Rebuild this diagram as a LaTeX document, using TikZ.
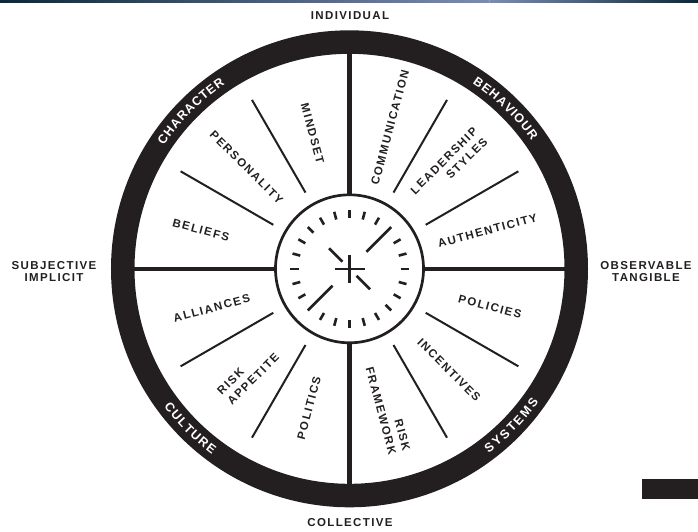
\documentclass[tikz,border=0pt]{standalone}
\usepackage{fontspec}
\setmainfont{Liberation Sans}
\newfontfamily\lblfont[LetterSpace=14]{Liberation Sans}
\newfontfamily\sidefont[LetterSpace=12]{Liberation Sans}
\newfontfamily\ringfont{Liberation Sans}
\usetikzlibrary{decorations.text}
\definecolor{ink}{RGB}{35,31,32}
\definecolor{topbar}{RGB}{10,40,58}
\definecolor{topbarlight}{RGB}{120,140,185}
\tikzset{
  lbl/.style={font=\lblfont\bfseries\fontsize{11.5}{14.5}\selectfont, text=ink, inner sep=0pt},
  sidelbl/.style={font=\sidefont\bfseries\fontsize{11.5}{12}\selectfont, text=ink, inner sep=0pt, align=center},
  ringtxt/.style={font=\ringfont\bfseries\fontsize{12.5}{14}\selectfont, decorate,
    decoration={text effects along path, text={#1},
      text effects/.cd, text along path, fit text to path,
      characters={text=white, font=\ringfont\bfseries\fontsize{12.5}{14}\selectfont}}},
  thickdiv/.style={draw=ink, line width=4.5pt},
  thindiv/.style={draw=ink, line width=2pt},
  tickmark/.style={draw=ink, line width=2.6pt},
}
\begin{document}
\begin{tikzpicture}[x=1pt,y=1pt]
\useasboundingbox (-349.5,-262.2) rectangle (348.5,268.8);
% top strip
\shade[left color=topbar, right color=topbarlight] (-349.5,266.8) rectangle (140,268.8);
\shade[left color=topbarlight, right color=topbar] (140,266.8) rectangle (348.5,268.8);
% bottom-right block
\fill[ink] (292.5,-230.2) rectangle (348.5,-210.2);
% outer ring
\draw[ink, line width=23.5pt] (0,0) circle (226.75);
% dividers
\foreach \a in {0,90,180,270} \draw[thickdiv] (\a:74) -- (\a:216);
\foreach \a in {30,60,120,150,210,240,300,330} \draw[thindiv] (\a:88) -- (\a:195);
% inner dial
\draw[ink, line width=2.7pt, fill=white] (0,0) circle (74);
\foreach \a in {0,15,30,60,75,90,105,120,135,150,165,180,195,210,240,255,270,285,300,315,330,345}
  \draw[tickmark] (\a:51) -- (\a:59);
\draw[tickmark] (45:24) -- (45:59);
\draw[tickmark] (225:24) -- (225:59);
\draw[tickmark] (135:10) -- (135:29);
\draw[tickmark] (315:10) -- (315:29);
\draw[tickmark] (-15,0) -- (15,0);
\draw[tickmark] (0,-14) -- (0,14);
% ring labels
\path[ringtxt={CHARACTER}] (146.5:222.5) arc[start angle=146.5, end angle=124, radius=222.5];
\path[ringtxt={BEHAVIOUR}] (56.5:222.5) arc[start angle=56.5, end angle=35, radius=222.5];
\path[ringtxt={CULTURE}] (216.5:231) arc[start angle=216.5, end angle=233.5, radius=231];
\path[ringtxt={SYSTEMS}] (307:231) arc[start angle=307, end angle=325, radius=231];
% sector labels
\node[lbl, rotate=-15] (beliefs) at (-148.5,38.8) {BELIEFS};
\node[lbl, rotate=-45] (personality) at (-103,101.3) {PERSONALITY};
\node[lbl, rotate=-75] (mindset) at (-37,135.5) {MINDSET};
\node[lbl, rotate=75] (communication) at (40.5,141.3) {COMMUNICATION};
\node[lbl, rotate=45, align=right] (leadership) at (99.5,102.8) {LEADERSHIP\\STYLES};
\node[lbl, rotate=15] (authenticity) at (138,38) {AUTHENTICITY};
\node[lbl, rotate=15] (alliances) at (-137.8,-39.5) {ALLIANCES};
\node[lbl, rotate=45, align=left] (riskapp) at (-101.5,-105.2) {RISK\\APPETITE};
\node[lbl, rotate=75] (politics) at (-40.5,-139.2) {POLITICS};
\node[lbl, rotate=-15] (policies) at (140.5,-37.9) {POLICIES};
\node[lbl, rotate=-45] (incentives) at (99.5,-101.2) {INCENTIVES};
\node[lbl, rotate=-75, align=right] (riskfw) at (38.5,-140.2) {RISK\\FRAMEWORK};
% outer axis labels
\node[sidelbl] (individual) at (0.5,253.3) {INDIVIDUAL};
\node[sidelbl] (collective) at (0.5,-254) {COLLECTIVE};
\node[sidelbl] (subjective) at (-295.5,-3.2) {SUBJECTIVE\\IMPLICIT};
\node[sidelbl] (observable) at (296.5,-3.2) {OBSERVABLE\\TANGIBLE};
\end{tikzpicture}
\end{document}
